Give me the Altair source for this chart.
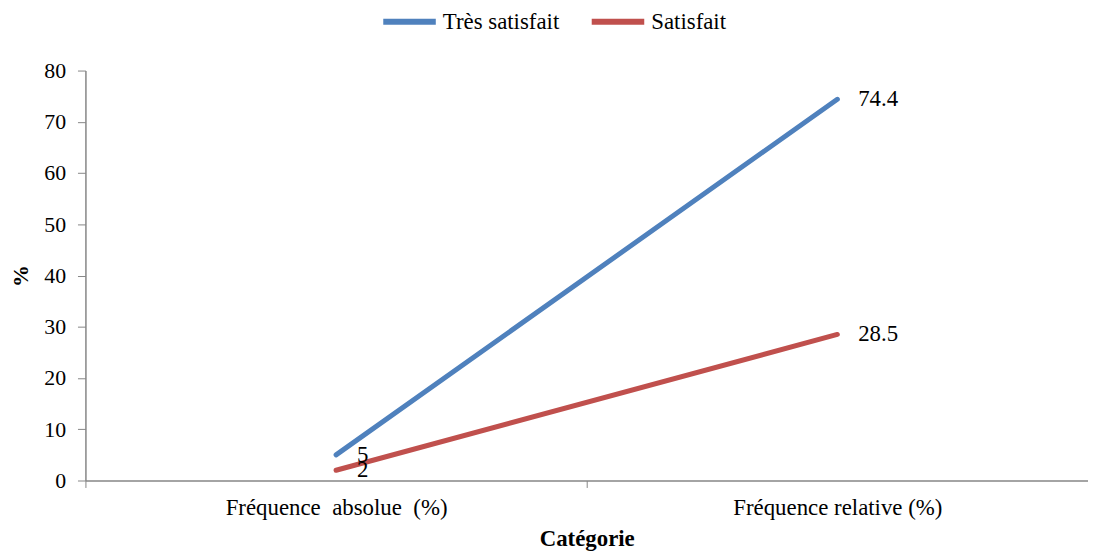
import altair as alt
import pandas as pd

categories = ["Fréquence\u00a0 absolue\u00a0 (%)", "Fréquence relative (%)"]
series_names = ["Très satisfait", "Satisfait"]
tres_satisfait = [5, 74.4]
satisfait = [2, 28.5]
colors = ["#4F81BD", "#C0504D"]

rows = []
for c, v in zip(categories, tres_satisfait):
    rows.append({"Catégorie": c, "Série": series_names[0], "Valeur": v})
for c, v in zip(categories, satisfait):
    rows.append({"Catégorie": c, "Série": series_names[1], "Valeur": v})
df = pd.DataFrame(rows)

FONT = "Liberation Serif"

x = alt.X(
    "Catégorie:N",
    sort=categories,
    scale=alt.Scale(paddingInner=0, paddingOuter=0),
    axis=alt.Axis(
        title="Catégorie",
        labelAngle=0,
        tickBand="extent",
        labelLimit=0,
        labelFontSize=23,
        labelPadding=9,
        titleFontSize=23,
        titleFontWeight="bold",
        titlePadding=8,
        tickSize=7,
    ),
)
y = alt.Y(
    "Valeur:Q",
    scale=alt.Scale(domain=[0, 80]),
    axis=alt.Axis(
        title="%",
        values=list(range(0, 81, 10)),
        grid=False,
        labelFontSize=22,
        labelPadding=12,
        titleFontSize=22,
        titleFontWeight="bold",
        titlePadding=11,
        tickSize=8,
    ),
)
color = alt.Color(
    "Série:N",
    scale=alt.Scale(domain=series_names, range=colors),
    sort=series_names,
    legend=alt.Legend(
        title=None,
        orient="none",
        direction="horizontal",
        legendX=297,
        legendY=-79,
        padding=0,
        symbolType="stroke",
        symbolSize=2800,
        symbolStrokeWidth=6,
        labelFontSize=23,
        labelOffset=4,
        columnPadding=20,
    ),
)

base = alt.Chart(df).encode(x=x, y=y)
lines = base.mark_line(strokeWidth=5, strokeCap="round").encode(color=color)
labels = base.mark_text(
    align="left", baseline="middle", dx=21, font=FONT, fontSize=23, color="black"
).encode(text=alt.Text("Valeur:Q"), detail="Série:N")

chart = (
    (lines + labels)
    .properties(
        width=1010,
        height=413,
        autosize=alt.AutoSizeParams(type="none"),
        padding={"left": 78, "top": 61, "right": 0, "bottom": 70},
    )
    .configure_view(stroke=None)
    .configure_axis(
        labelFont=FONT,
        titleFont=FONT,
        labelColor="black",
        titleColor="black",
        domainColor="#868686",
        tickColor="#868686",
        domainWidth=1.5,
    )
    .configure_legend(labelFont=FONT, labelColor="black")
)

chart.save("out.html", embed_options={"renderer": "svg", "actions": False})
